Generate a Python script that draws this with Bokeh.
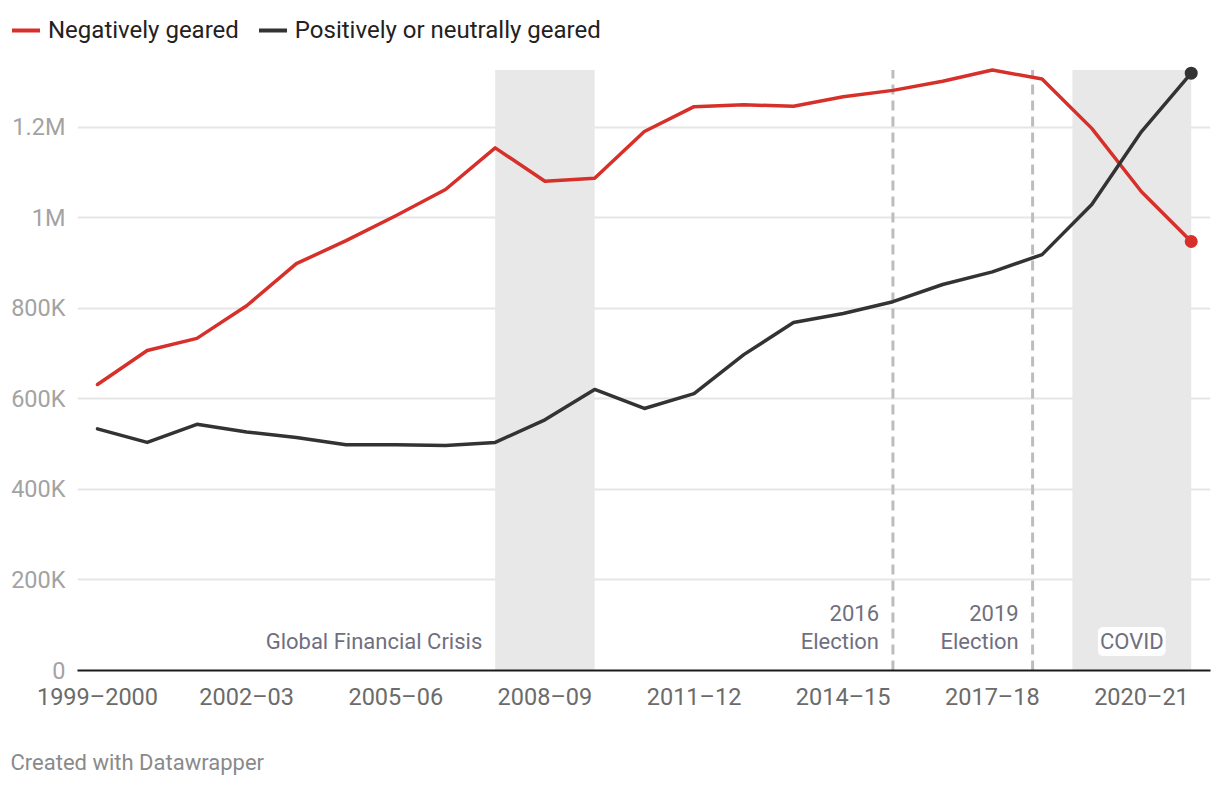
from bokeh.plotting import figure
from bokeh.layouts import column
from bokeh.models import (Range1d, FixedTicker, Legend, LegendItem, Label)
from bokeh.core.properties import value
from bokeh.embed import file_html
from bokeh.resources import INLINE

# ---- data ----
years = ["1999–2000", "2000–01", "2001–02", "2002–03", "2003–04", "2004–05", "2005–06",
         "2006–07", "2007–08", "2008–09", "2009–10", "2010–11", "2011–12", "2012–13",
         "2013–14", "2014–15", "2015–16", "2016–17", "2017–18", "2018–19", "2019–20",
         "2020–21", "2021–22"]
negative = [632, 707, 734, 806, 899, 950, 1005, 1063, 1155, 1081, 1088, 1191, 1246, 1250,
            1247, 1268, 1282, 1302, 1327, 1307, 1198, 1058, 948]
positive = [534, 504, 544, 527, 515, 499, 499, 497, 504, 554, 621, 579, 612, 698,
            769, 789, 815, 853, 881, 919, 1030, 1191, 1320]
negative = [v * 1000 for v in negative]
positive = [v * 1000 for v in positive]
series_names = ["Negatively geared", "Positively or neutrally geared"]
x_tick_idx = [0, 3, 6, 9, 12, 15, 18, 21]
y_ticks = [0, 200000, 400000, 600000, 800000, 1000000, 1200000]
y_tick_labels = ["0", "200K", "400K", "600K", "800K", "1M", "1.2M"]
gfc_span = (8, 10)
covid_span = (19.61, 22)
elections = [16, 18.81]
election_labels = [["2016", "Election"], ["2019", "Election"]]
credit = "Created with Datawrapper"

idx = list(range(len(years)))
FONT = "Roboto"
RED = "#d7302a"
DARK = "#333333"
ANN = "#6f6f80"


def strip(height):
    f = figure(width=1220, height=height, output_backend="svg", toolbar_location=None,
               x_axis_type=None, y_axis_type=None,
               x_range=Range1d(0, 1220), y_range=Range1d(0, height),
               min_border_left=0, min_border_right=0, min_border_top=0, min_border_bottom=0)
    f.frame_align = False
    f.outline_line_color = None
    f.background_fill_color = "white"
    f.border_fill_color = "white"
    return f


# ---------- legend strip ----------
leg = strip(50)
l_neg = leg.line(idx, negative, visible=False, line_color=RED, line_width=4, line_cap="round")
l_pos = leg.line(idx, positive, visible=False, line_color=DARK, line_width=4, line_cap="round")
legend = Legend(items=[LegendItem(label=series_names[0], renderers=[l_neg]),
                       LegendItem(label=series_names[1], renderers=[l_pos])],
                orientation="horizontal", location=(12, 6), click_policy="none",
                label_text_font=FONT, label_text_font_size="24px", label_text_color="#222222",
                glyph_width=28, glyph_height=28, label_height=28, label_standoff=8,
                spacing=20, padding=0, margin=0, border_line_color=None,
                background_fill_alpha=0, inactive_fill_alpha=0)
leg.add_layout(legend)

# ---------- main chart ----------
p = figure(width=1220, height=690, output_backend="svg", toolbar_location=None,
           x_range=Range1d(-0.402, 22.388), y_range=Range1d(0, 1348000),
           min_border_left=77, min_border_right=10, min_border_top=10, min_border_bottom=70)
p.frame_align = False
p.outline_line_color = None
p.background_fill_color = "white"
p.border_fill_color = "white"

top = max(negative + positive)

# shaded periods
p.quad(left=[gfc_span[0], covid_span[0]], right=[gfc_span[1], covid_span[1]],
       bottom=[0, 0], top=[top, top], fill_color="#e8e8e8", line_color=None)

# election dashed lines
for e in elections:
    p.segment(x0=[e], y0=[0], x1=[e], y1=[top], line_color="#bdbdbd", line_width=3,
              line_dash="10 6")

# lines
p.line(idx, negative, line_color=RED, line_width=3.5, line_join="round", line_cap="round")
p.line(idx, positive, line_color=DARK, line_width=3.5, line_join="round", line_cap="round")
p.scatter([idx[-1]], [negative[-1]], size=13, fill_color=RED, line_color=None)
p.scatter([idx[-1]], [positive[-1]], size=13, fill_color=DARK, line_color=None)

# annotations
p.text(x=[gfc_span[0] - 0.26], y=[64000], text=["Global Financial Crisis"],
       text_align="right", text_baseline="middle", text_font=value(FONT),
       text_font_size="22px", text_color=ANN)
for e, (l1, l2) in zip(elections, election_labels):
    p.text(x=[e - 0.28, e - 0.28], y=[126000, 64000], text=[l1, l2],
           text_align="right", text_baseline="middle", text_font=value(FONT),
           text_font_size="22px", text_color=ANN)
p.add_layout(Label(x=(covid_span[0] + covid_span[1]) / 2, y=64000, text="COVID",
                   text_align="center", text_baseline="middle", text_font=FONT,
                   text_font_size="22px", text_color=ANN, background_fill_color="white",
                   background_fill_alpha=0.95, border_radius=5, padding=2))

# axes
p.xgrid.grid_line_color = None
p.ygrid.grid_line_color = "#e6e6e6"
p.ygrid.grid_line_width = 2
p.ygrid.ticker = FixedTicker(ticks=y_ticks)

p.yaxis.ticker = FixedTicker(ticks=y_ticks)
p.yaxis.major_label_overrides = {t: l for t, l in zip(y_ticks, y_tick_labels)}
p.yaxis.axis_line_color = None
p.yaxis.major_tick_line_color = None
p.yaxis.minor_tick_line_color = None
p.yaxis.major_tick_out = 0
p.yaxis.major_tick_in = 0
p.yaxis.major_label_standoff = 12
p.yaxis.major_label_text_font = FONT
p.yaxis.major_label_text_font_size = "23.5px"
p.yaxis.major_label_text_color = "#a3a3a3"

p.xaxis.ticker = FixedTicker(ticks=x_tick_idx)
p.xaxis.major_label_overrides = {i: years[i] for i in x_tick_idx}
p.xaxis.axis_line_color = "#1a1a1a"
p.xaxis.axis_line_width = 2
p.xaxis.major_tick_line_color = None
p.xaxis.minor_tick_line_color = None
p.xaxis.major_tick_out = 0
p.xaxis.major_tick_in = 0
p.xaxis.major_label_standoff = 12
p.xaxis.major_label_text_font = FONT
p.xaxis.major_label_text_font_size = "23.5px"
p.xaxis.major_label_text_color = "#6b6b6b"

# ---------- footer ----------
foot = strip(46)
foot.text(x=[10], y=[24], text=[credit], text_align="left", text_baseline="middle",
          text_font=value(FONT), text_font_size="22px", text_color="#8a8a8a")

layout = column(leg, p, foot, spacing=0)
open("out.html", "w").write(file_html(layout, INLINE))
